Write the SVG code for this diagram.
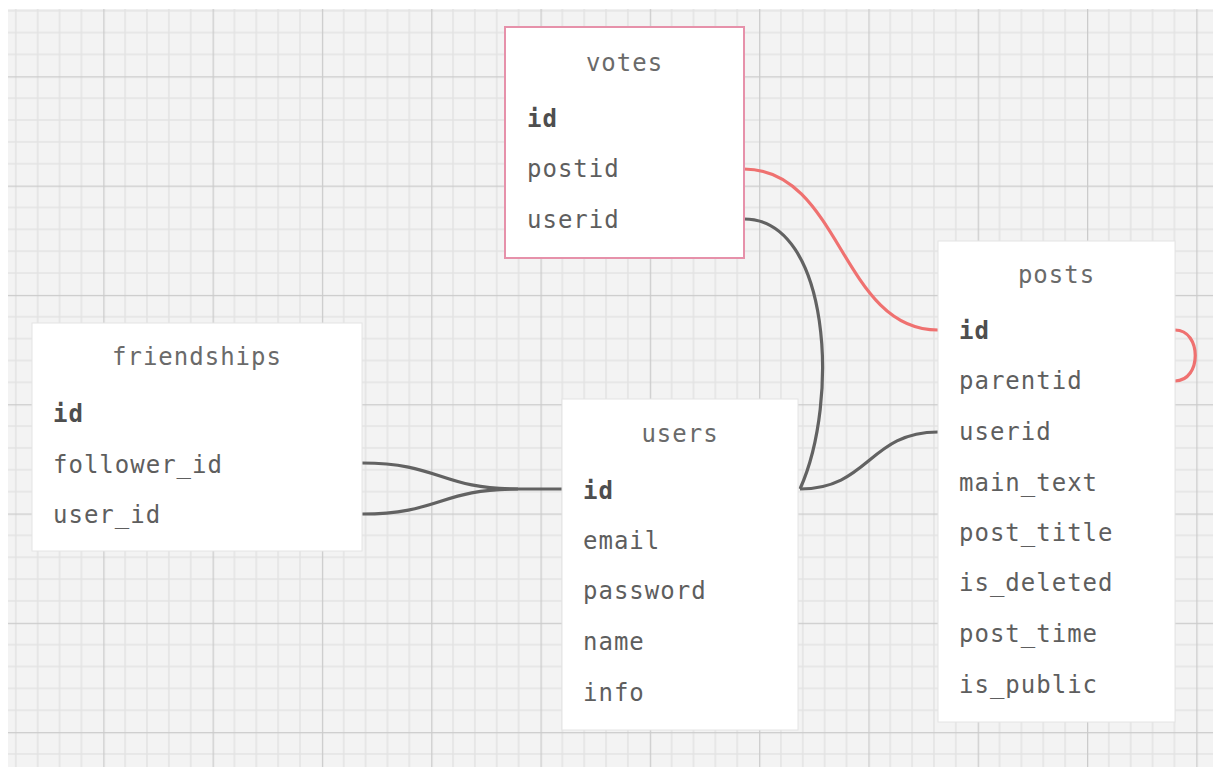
<svg xmlns="http://www.w3.org/2000/svg" width="1213" height="767" viewBox="0 0 1213 767">
<style>
.box{fill:#ffffff;stroke:#e4e4e4;stroke-width:1}
.sel{fill:#ffffff;stroke:#e691aa;stroke-width:2}
.title{font-family:"DejaVu Sans Mono","Liberation Mono",monospace;font-size:24px;letter-spacing:1px;fill:#6a6a6a;text-anchor:middle}
.f{font-family:"DejaVu Sans Mono","Liberation Mono",monospace;font-size:24px;letter-spacing:1px;fill:#5e5e5e}
.pk{font-weight:bold;fill:#4e4e4e}
.c{fill:none;stroke:#626262;stroke-width:3.2}
.r{fill:none;stroke:#ef7170;stroke-width:3.2}
</style>
<defs>
<pattern id="grid" patternUnits="userSpaceOnUse" x="-6" y="-33" width="109.3" height="109.3">
<rect width="109.3" height="109.3" fill="#f3f3f3"/>
<g stroke="#e3e3e3" stroke-width="1.5">
<line x1="21.86" y1="0" x2="21.86" y2="109.3"/>
<line x1="43.72" y1="0" x2="43.72" y2="109.3"/>
<line x1="65.58" y1="0" x2="65.58" y2="109.3"/>
<line x1="87.44" y1="0" x2="87.44" y2="109.3"/>
<line y1="21.86" x1="0" y2="21.86" x2="109.3"/>
<line y1="43.72" x1="0" y2="43.72" x2="109.3"/>
<line y1="65.58" x1="0" y2="65.58" x2="109.3"/>
<line y1="87.44" x1="0" y2="87.44" x2="109.3"/>
</g>
<g stroke="#cbcbcb" stroke-width="2.5">
<line x1="0" y1="0" x2="0" y2="109.3"/>
<line x1="0" y1="0" x2="109.3" y2="0"/>
</g>
</pattern>
</defs>
<rect width="1213" height="767" fill="#ffffff"/>
<rect x="8" y="9" width="1205" height="758" fill="url(#grid)"/>

<g id="connectors">
<path class="r" d="M744,169 C841,169 841,330 938,330"/>
<path class="r" d="M1175,330 C1202,330 1202,381 1175,381"/>
<path class="c" d="M744,219 C830,219 840,400 800,489"/>
<path class="c" d="M800,489 C869,489 869,432 938,432"/>
<path class="c" d="M362,463 C440,463 440,489 518,489 L562,489"/>
<path class="c" d="M362,514 C440,514 440,489 518,489"/>
</g>

<g id="votes">
<rect class="sel" x="505" y="27" width="239" height="231"/>
<text class="title" x="624.5" y="71">votes</text>
<text class="f pk" x="527" y="127">id</text>
<text class="f" x="527" y="177">postid</text>
<text class="f" x="527" y="228">userid</text>
</g>

<g id="posts">
<rect class="box" x="938" y="241" width="237" height="481"/>
<text class="title" x="1056.5" y="283">posts</text>
<text class="f pk" x="959" y="339">id</text>
<text class="f" x="959" y="389">parentid</text>
<text class="f" x="959" y="440">userid</text>
<text class="f" x="959" y="491">main_text</text>
<text class="f" x="959" y="541">post_title</text>
<text class="f" x="959" y="591">is_deleted</text>
<text class="f" x="959" y="642">post_time</text>
<text class="f" x="959" y="693">is_public</text>
</g>

<g id="friendships">
<rect class="box" x="32" y="323" width="330" height="228"/>
<text class="title" x="197" y="365">friendships</text>
<text class="f pk" x="53" y="422">id</text>
<text class="f" x="53" y="473">follower_id</text>
<text class="f" x="53" y="523">user_id</text>
</g>

<g id="users">
<rect class="box" x="562" y="399" width="236" height="331"/>
<text class="title" x="680" y="442">users</text>
<text class="f pk" x="583" y="499">id</text>
<text class="f" x="583" y="549">email</text>
<text class="f" x="583" y="599">password</text>
<text class="f" x="583" y="650">name</text>
<text class="f" x="583" y="701">info</text>
</g>
</svg>
